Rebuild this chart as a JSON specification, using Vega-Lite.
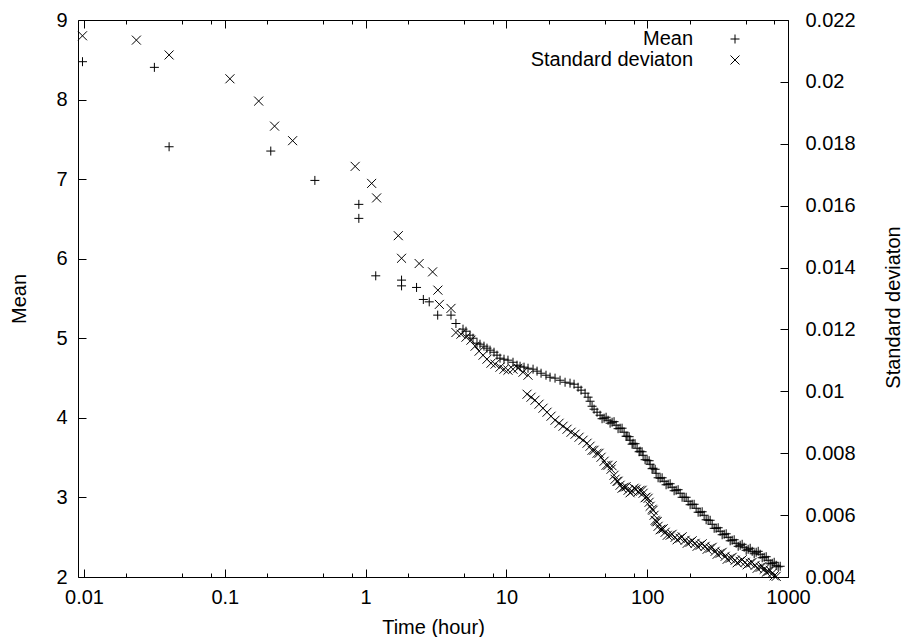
{
"$schema": "https://vega.github.io/schema/vega-lite/v6.json",
"width": 710, "height": 557,
"autosize": {"type": "none"},
"padding": {"left": 78, "top": 20, "right": 116, "bottom": 60},
"config": {
 "view": {"stroke": "black", "strokeWidth": 1},
 "font": "Liberation Sans",
 "axis": {"domain": false, "grid": false, "labelFont": "Liberation Sans", "labelFontSize": 20, "labelColor": "black", "titleFont": "Liberation Sans", "titleFontSize": 20, "titleFontWeight": "normal", "titleColor": "black", "tickColor": "black", "tickWidth": 1, "labelFlush": false, "labelOverlap": false},
 "legend": {"orient": "none", "legendX": 647, "legendY": 9, "title": null, "labelAlign": "right", "labelOffset": -52, "labelLimit": 400, "labelFont": "Liberation Sans", "labelFontSize": 20, "labelColor": "black", "symbolStrokeColor": "black", "symbolStrokeWidth": 1, "symbolSize": 81, "symbolFillColor": "transparent", "padding": 0, "rowPadding": 1}
},
"data": {"values": [
{"series":"Mean","time":0.00975,"value":8.476},
{"series":"Mean","time":0.0316,"value":8.405},
{"series":"Mean","time":0.0402,"value":7.407},
{"series":"Mean","time":0.212,"value":7.353},
{"series":"Mean","time":0.436,"value":6.984},
{"series":"Mean","time":0.895,"value":6.683},
{"series":"Mean","time":0.895,"value":6.507},
{"series":"Mean","time":1.18,"value":5.785},
{"series":"Mean","time":1.80,"value":5.731},
{"series":"Mean","time":1.80,"value":5.659},
{"series":"Mean","time":2.30,"value":5.639},
{"series":"Mean","time":2.57,"value":5.488},
{"series":"Mean","time":2.83,"value":5.458},
{"series":"Mean","time":3.25,"value":5.291},
{"series":"Mean","time":4.04,"value":5.291},
{"series":"Mean","time":4.38,"value":5.186},
{"series":"Mean","time":4.917,"value":5.115},
{"series":"Mean","time":5.164,"value":5.089},
{"series":"Mean","time":5.512,"value":5.039},
{"series":"Mean","time":5.790,"value":5.001},
{"series":"Mean","time":6.180,"value":4.939},
{"series":"Mean","time":6.492,"value":4.926},
{"series":"Mean","time":6.929,"value":4.901},
{"series":"Mean","time":7.279,"value":4.876},
{"series":"Mean","time":7.648,"value":4.851},
{"series":"Mean","time":8.164,"value":4.825},
{"series":"Mean","time":8.575,"value":4.788},
{"series":"Mean","time":9.006,"value":4.750},
{"series":"Mean","time":9.614,"value":4.737},
{"series":"Mean","time":10.26,"value":4.725},
{"series":"Mean","time":11.14,"value":4.699},
{"series":"Mean","time":11.89,"value":4.662},
{"series":"Mean","time":12.50,"value":4.649},
{"series":"Mean","time":13.34,"value":4.637},
{"series":"Mean","time":14.24,"value":4.624},
{"series":"Mean","time":15.46,"value":4.612},
{"series":"Mean","time":16.50,"value":4.587},
{"series":"Mean","time":17.62,"value":4.561},
{"series":"Mean","time":19.11,"value":4.536},
{"series":"Mean","time":20.41,"value":4.511},
{"series":"Mean","time":22.15,"value":4.499},
{"series":"Mean","time":24.04,"value":4.473},
{"series":"Mean","time":26.10,"value":4.448},
{"series":"Mean","time":28.31,"value":4.436},
{"series":"Mean","time":30.23,"value":4.423},
{"series":"Mean","time":32.28,"value":4.385},
{"series":"Mean","time":33.90,"value":4.348},
{"series":"Mean","time":36.20,"value":4.310},
{"series":"Mean","time":38.02,"value":4.260},
{"series":"Mean","time":39.28,"value":4.209},
{"series":"Mean","time":40.59,"value":4.146},
{"series":"Mean","time":41.94,"value":4.109},
{"series":"Mean","time":44.05,"value":4.071},
{"series":"Mean","time":46.27,"value":4.033},
{"series":"Mean","time":47.8,"value":3.989},
{"series":"Mean","time":49.40,"value":3.996},
{"series":"Mean","time":51.05,"value":4.008},
{"series":"Mean","time":52.74,"value":3.970},
{"series":"Mean","time":54.5,"value":3.933},
{"series":"Mean","time":56.31,"value":3.945},
{"series":"Mean","time":58.15,"value":3.952},
{"series":"Mean","time":60.12,"value":3.908},
{"series":"Mean","time":62.1,"value":3.864},
{"series":"Mean","time":64.19,"value":3.870},
{"series":"Mean","time":66.3,"value":3.870},
{"series":"Mean","time":68.53,"value":3.820},
{"series":"Mean","time":70.8,"value":3.769},
{"series":"Mean","time":71.96,"value":3.769},
{"series":"Mean","time":74.4,"value":3.763},
{"series":"Mean","time":75.59,"value":3.719},
{"series":"Mean","time":78.11,"value":3.669},
{"series":"Mean","time":79.40,"value":3.681},
{"series":"Mean","time":82.0,"value":3.675},
{"series":"Mean","time":84.77,"value":3.618},
{"series":"Mean","time":87.6,"value":3.574},
{"series":"Mean","time":89.04,"value":3.581},
{"series":"Mean","time":92.0,"value":3.574},
{"series":"Mean","time":93.52,"value":3.530},
{"series":"Mean","time":96.6,"value":3.474},
{"series":"Mean","time":99.84,"value":3.467},
{"series":"Mean","time":103.2,"value":3.461},
{"series":"Mean","time":104.9,"value":3.417},
{"series":"Mean","time":108.3,"value":3.361},
{"series":"Mean","time":110.1,"value":3.367},
{"series":"Mean","time":113.8,"value":3.354},
{"series":"Mean","time":115.7,"value":3.304},
{"series":"Mean","time":119.5,"value":3.247},
{"series":"Mean","time":123.5,"value":3.241},
{"series":"Mean","time":127.6,"value":3.247},
{"series":"Mean","time":131.9,"value":3.203},
{"series":"Mean","time":136.2,"value":3.159},
{"series":"Mean","time":140.8,"value":3.166},
{"series":"Mean","time":145.5,"value":3.172},
{"series":"Mean","time":150.3,"value":3.128},
{"series":"Mean","time":155.3,"value":3.084},
{"series":"Mean","time":160.5,"value":3.090},
{"series":"Mean","time":165.8,"value":3.097},
{"series":"Mean","time":171.3,"value":3.053},
{"series":"Mean","time":177.0,"value":3.002},
{"series":"Mean","time":182.9,"value":3.002},
{"series":"Mean","time":189.0,"value":3.002},
{"series":"Mean","time":195.3,"value":2.952},
{"series":"Mean","time":201.8,"value":2.908},
{"series":"Mean","time":208.5,"value":2.914},
{"series":"Mean","time":215.4,"value":2.914},
{"series":"Mean","time":222.6,"value":2.864},
{"series":"Mean","time":230.0,"value":2.814},
{"series":"Mean","time":237.7,"value":2.814},
{"series":"Mean","time":245.6,"value":2.820},
{"series":"Mean","time":253.7,"value":2.776},
{"series":"Mean","time":262.2,"value":2.719},
{"series":"Mean","time":270.9,"value":2.713},
{"series":"Mean","time":279.9,"value":2.713},
{"series":"Mean","time":289.3,"value":2.663},
{"series":"Mean","time":298.9,"value":2.612},
{"series":"Mean","time":308.8,"value":2.612},
{"series":"Mean","time":319.1,"value":2.619},
{"series":"Mean","time":329.7,"value":2.575},
{"series":"Mean","time":340.7,"value":2.531},
{"series":"Mean","time":352.1,"value":2.537},
{"series":"Mean","time":363.8,"value":2.543},
{"series":"Mean","time":375.8,"value":2.499},
{"series":"Mean","time":388.4,"value":2.455},
{"series":"Mean","time":401.2,"value":2.462},
{"series":"Mean","time":414.6,"value":2.468},
{"series":"Mean","time":428.3,"value":2.424},
{"series":"Mean","time":442.7,"value":2.386},
{"series":"Mean","time":457.4,"value":2.399},
{"series":"Mean","time":472.6,"value":2.411},
{"series":"Mean","time":488.3,"value":2.374},
{"series":"Mean","time":504.7,"value":2.336},
{"series":"Mean","time":521.3,"value":2.348},
{"series":"Mean","time":538.7,"value":2.361},
{"series":"Mean","time":556.6,"value":2.323},
{"series":"Mean","time":575.3,"value":2.292},
{"series":"Mean","time":594.3,"value":2.311},
{"series":"Mean","time":614.3,"value":2.323},
{"series":"Mean","time":634.4,"value":2.286},
{"series":"Mean","time":655.7,"value":2.242},
{"series":"Mean","time":677.3,"value":2.248},
{"series":"Mean","time":699.8,"value":2.255},
{"series":"Mean","time":723.3,"value":2.210},
{"series":"Mean","time":747.4,"value":2.166},
{"series":"Mean","time":772.2,"value":2.172},
{"series":"Mean","time":797.8,"value":2.185},
{"series":"Mean","time":824.4,"value":2.147},
{"series":"Mean","time":851.7,"value":2.128},
{"series":"Mean","time":880.2,"value":2.135},
{"series":"Standard deviaton","time":0.00975,"value":0.02149},
{"series":"Standard deviaton","time":0.02354,"value":0.02135},
{"series":"Standard deviaton","time":0.0402,"value":0.02087},
{"series":"Standard deviaton","time":0.1087,"value":0.02010},
{"series":"Standard deviaton","time":0.1739,"value":0.01938},
{"series":"Standard deviaton","time":0.2256,"value":0.01857},
{"series":"Standard deviaton","time":0.303,"value":0.01810},
{"series":"Standard deviaton","time":0.843,"value":0.01727},
{"series":"Standard deviaton","time":1.104,"value":0.01672},
{"series":"Standard deviaton","time":1.197,"value":0.01625},
{"series":"Standard deviaton","time":1.706,"value":0.01503},
{"series":"Standard deviaton","time":1.80,"value":0.01430},
{"series":"Standard deviaton","time":2.40,"value":0.01413},
{"series":"Standard deviaton","time":2.99,"value":0.01386},
{"series":"Standard deviaton","time":3.26,"value":0.01327},
{"series":"Standard deviaton","time":3.34,"value":0.01281},
{"series":"Standard deviaton","time":4.04,"value":0.01268},
{"series":"Standard deviaton","time":4.38,"value":0.01190},
{"series":"Standard deviaton","time":4.756,"value":0.011847},
{"series":"Standard deviaton","time":5.164,"value":0.011750},
{"series":"Standard deviaton","time":5.60,"value":0.011653},
{"series":"Standard deviaton","time":5.992,"value":0.011459},
{"series":"Standard deviaton","time":6.397,"value":0.011297},
{"series":"Standard deviaton","time":6.829,"value":0.011168},
{"series":"Standard deviaton","time":7.279,"value":0.011039},
{"series":"Standard deviaton","time":7.773,"value":0.010909},
{"series":"Standard deviaton","time":8.299,"value":0.010877},
{"series":"Standard deviaton","time":9.006,"value":0.010780},
{"series":"Standard deviaton","time":9.614,"value":0.010715},
{"series":"Standard deviaton","time":10.26,"value":0.010683},
{"series":"Standard deviaton","time":11.14,"value":0.010715},
{"series":"Standard deviaton","time":12.09,"value":0.010748},
{"series":"Standard deviaton","time":13.12,"value":0.010618},
{"series":"Standard deviaton","time":14.24,"value":0.010521},
{"series":"Standard deviaton","time":14.01,"value":0.009907},
{"series":"Standard deviaton","time":14.96,"value":0.009810},
{"series":"Standard deviaton","time":15.97,"value":0.009713},
{"series":"Standard deviaton","time":17.05,"value":0.009584},
{"series":"Standard deviaton","time":18.20,"value":0.009454},
{"series":"Standard deviaton","time":19.43,"value":0.009325},
{"series":"Standard deviaton","time":20.75,"value":0.009196},
{"series":"Standard deviaton","time":22.15,"value":0.009066},
{"series":"Standard deviaton","time":23.65,"value":0.008969},
{"series":"Standard deviaton","time":25.25,"value":0.008872},
{"series":"Standard deviaton","time":26.96,"value":0.008775},
{"series":"Standard deviaton","time":28.78,"value":0.008678},
{"series":"Standard deviaton","time":30.73,"value":0.008614},
{"series":"Standard deviaton","time":32.81,"value":0.008517},
{"series":"Standard deviaton","time":35.03,"value":0.008420},
{"series":"Standard deviaton","time":37.40,"value":0.008323},
{"series":"Standard deviaton","time":39.28,"value":0.008226},
{"series":"Standard deviaton","time":40.59,"value":0.008096},
{"series":"Standard deviaton","time":41.94,"value":0.008096},
{"series":"Standard deviaton","time":44.05,"value":0.007999},
{"series":"Standard deviaton","time":45.5,"value":0.007999},
{"series":"Standard deviaton","time":47.02,"value":0.007870},
{"series":"Standard deviaton","time":49.40,"value":0.007741},
{"series":"Standard deviaton","time":51.05,"value":0.007611},
{"series":"Standard deviaton","time":52.74,"value":0.007611},
{"series":"Standard deviaton","time":55.36,"value":0.007482},
{"series":"Standard deviaton","time":56.31,"value":0.007595},
{"series":"Standard deviaton","time":58.15,"value":0.007288},
{"series":"Standard deviaton","time":59.1,"value":0.007159},
{"series":"Standard deviaton","time":61.10,"value":0.007094},
{"series":"Standard deviaton","time":62.1,"value":0.007094},
{"series":"Standard deviaton","time":64.19,"value":0.006965},
{"series":"Standard deviaton","time":66.3,"value":0.006868},
{"series":"Standard deviaton","time":68.53,"value":0.006900},
{"series":"Standard deviaton","time":70.8,"value":0.006916},
{"series":"Standard deviaton","time":73.16,"value":0.006803},
{"series":"Standard deviaton","time":75.59,"value":0.006722},
{"series":"Standard deviaton","time":78.11,"value":0.006771},
{"series":"Standard deviaton","time":80.7,"value":0.006868},
{"series":"Standard deviaton","time":83.39,"value":0.006835},
{"series":"Standard deviaton","time":86.2,"value":0.006755},
{"series":"Standard deviaton","time":89.04,"value":0.006803},
{"series":"Standard deviaton","time":92.0,"value":0.006803},
{"series":"Standard deviaton","time":93.52,"value":0.006706},
{"series":"Standard deviaton","time":96.6,"value":0.006561},
{"series":"Standard deviaton","time":98.22,"value":0.006577},
{"series":"Standard deviaton","time":101.5,"value":0.006544},
{"series":"Standard deviaton","time":103.2,"value":0.006415},
{"series":"Standard deviaton","time":104.9,"value":0.006286},
{"series":"Standard deviaton","time":108.3,"value":0.006189},
{"series":"Standard deviaton","time":110.1,"value":0.006156},
{"series":"Standard deviaton","time":111.9,"value":0.005995},
{"series":"Standard deviaton","time":113.8,"value":0.005833},
{"series":"Standard deviaton","time":115.7,"value":0.005801},
{"series":"Standard deviaton","time":117.6,"value":0.005785},
{"series":"Standard deviaton","time":119.5,"value":0.005639},
{"series":"Standard deviaton","time":123.5,"value":0.005526},
{"series":"Standard deviaton","time":125.6,"value":0.005542},
{"series":"Standard deviaton","time":129.9,"value":0.005558},
{"series":"Standard deviaton","time":134.1,"value":0.005445},
{"series":"Standard deviaton","time":138.8,"value":0.005348},
{"series":"Standard deviaton","time":145.5,"value":0.005348},
{"series":"Standard deviaton","time":150.3,"value":0.005380},
{"series":"Standard deviaton","time":157.9,"value":0.005283},
{"series":"Standard deviaton","time":163.1,"value":0.005202},
{"series":"Standard deviaton","time":171.3,"value":0.005251},
{"series":"Standard deviaton","time":177.0,"value":0.005299},
{"series":"Standard deviaton","time":185.9,"value":0.005186},
{"series":"Standard deviaton","time":192.4,"value":0.005089},
{"series":"Standard deviaton","time":201.8,"value":0.005122},
{"series":"Standard deviaton","time":208.5,"value":0.005170},
{"series":"Standard deviaton","time":219.0,"value":0.005089},
{"series":"Standard deviaton","time":226.2,"value":0.004992},
{"series":"Standard deviaton","time":237.7,"value":0.005025},
{"series":"Standard deviaton","time":245.6,"value":0.005073},
{"series":"Standard deviaton","time":257.9,"value":0.004992},
{"series":"Standard deviaton","time":266.5,"value":0.004895},
{"series":"Standard deviaton","time":279.9,"value":0.004928},
{"series":"Standard deviaton","time":289.3,"value":0.004960},
{"series":"Standard deviaton","time":303.8,"value":0.004831},
{"series":"Standard deviaton","time":313.9,"value":0.004734},
{"series":"Standard deviaton","time":329.7,"value":0.004766},
{"series":"Standard deviaton","time":340.7,"value":0.004798},
{"series":"Standard deviaton","time":357.9,"value":0.004669},
{"series":"Standard deviaton","time":369.8,"value":0.004572},
{"series":"Standard deviaton","time":388.4,"value":0.004604},
{"series":"Standard deviaton","time":401.2,"value":0.004637},
{"series":"Standard deviaton","time":421.4,"value":0.004540},
{"series":"Standard deviaton","time":435.5,"value":0.004459},
{"series":"Standard deviaton","time":457.4,"value":0.004507},
{"series":"Standard deviaton","time":472.6,"value":0.004556},
{"series":"Standard deviaton","time":496.4,"value":0.004475},
{"series":"Standard deviaton","time":512.9,"value":0.004394},
{"series":"Standard deviaton","time":538.7,"value":0.004443},
{"series":"Standard deviaton","time":556.6,"value":0.004475},
{"series":"Standard deviaton","time":584.7,"value":0.004378},
{"series":"Standard deviaton","time":604.0,"value":0.004281},
{"series":"Standard deviaton","time":634.4,"value":0.004313},
{"series":"Standard deviaton","time":655.7,"value":0.004346},
{"series":"Standard deviaton","time":677.3,"value":0.004249},
{"series":"Standard deviaton","time":699.8,"value":0.004152},
{"series":"Standard deviaton","time":723.3,"value":0.004184},
{"series":"Standard deviaton","time":747.4,"value":0.004216},
{"series":"Standard deviaton","time":772.2,"value":0.004119},
{"series":"Standard deviaton","time":797.8,"value":0.004038},
{"series":"Standard deviaton","time":824.4,"value":0.004022}
]},
"layer": [
 {
  "transform": [{"filter": "datum.series === 'Mean'"}],
  "mark": {"type": "point", "filled": false, "stroke": "black", "strokeWidth": 1, "size": 81, "opacity": 1},
  "encoding": {
   "x": {"field": "time", "type": "quantitative", "scale": {"type": "log", "domain": [0.00906, 1000], "nice": false},
         "axis": {"orient": "bottom", "values": [0.01, 0.1, 1, 10, 100, 1000], "format": "~g", "tickSize": -8, "labelPadding": 18, "title": "Time (hour)", "titleX": 355, "titleY": 56, "titleBaseline": "alphabetic", "titleAlign": "center"}},
   "y": {"field": "value", "type": "quantitative", "scale": {"domain": [2, 9], "nice": false, "zero": false},
         "axis": {"orient": "left", "values": [2, 3, 4, 5, 6, 7, 8, 9], "tickSize": -8, "labelPadding": 19, "title": "Mean", "titleX": -59, "titleY": 278.5, "titleAngle": -90, "titleBaseline": "middle", "titleAlign": "center"}},
   "shape": {"field": "series", "type": "nominal", "scale": {"domain": ["Mean", "Standard deviaton"], "range": ["M-1,0L1,0M0,-1L0,1", "M-1,-1L1,1M-1,1L1,-1"]}}
  }
 },
 {
  "transform": [{"filter": "datum.series === 'Standard deviaton'"}],
  "mark": {"type": "point", "filled": false, "stroke": "black", "strokeWidth": 1, "size": 81, "opacity": 1},
  "encoding": {
   "x": {"field": "time", "type": "quantitative", "scale": {"type": "log", "domain": [0.00906, 1000], "nice": false},
         "axis": {"orient": "top", "values": [0.01, 0.1, 1, 10, 100, 1000], "tickSize": -8, "labels": false, "title": null}},
   "y": {"field": "value", "type": "quantitative", "scale": {"domain": [0.004, 0.022], "nice": false, "zero": false},
         "axis": {"orient": "right", "values": [0.004, 0.006, 0.008, 0.01, 0.012, 0.014, 0.016, 0.018, 0.02, 0.022], "format": "~g", "tickSize": -8, "labelPadding": 25, "title": "Standard deviaton", "titleX": 105, "titleY": 287, "titleAngle": -90, "titleBaseline": "middle", "titleAlign": "center"}},
   "shape": {"field": "series", "type": "nominal", "scale": {"domain": ["Mean", "Standard deviaton"], "range": ["M-1,0L1,0M0,-1L0,1", "M-1,-1L1,1M-1,1L1,-1"]}}
  }
 },
 {
  "transform": [{"filter": "datum.series === 'Mean'"}],
  "mark": {"type": "point", "opacity": 0},
  "encoding": {
   "x": {"field": "time", "type": "quantitative", "scale": {"type": "log", "domain": [0.00906, 1000], "nice": false},
         "axis": {"orient": "bottom", "values": [0.02, 0.05, 0.08, 0.2, 0.5, 0.8, 2, 5, 8, 20, 50, 80, 200, 500, 800], "tickSize": -4, "labels": false, "title": null}},
   "y": {"field": "value", "type": "quantitative", "scale": {"domain": [2, 9], "nice": false, "zero": false}, "axis": null}
  }
 },
 {
  "transform": [{"filter": "datum.series === 'Mean'"}],
  "mark": {"type": "point", "opacity": 0},
  "encoding": {
   "x": {"field": "time", "type": "quantitative", "scale": {"type": "log", "domain": [0.00906, 1000], "nice": false},
         "axis": {"orient": "top", "values": [0.02, 0.05, 0.08, 0.2, 0.5, 0.8, 2, 5, 8, 20, 50, 80, 200, 500, 800], "tickSize": -4, "labels": false, "title": null}},
   "y": {"field": "value", "type": "quantitative", "scale": {"domain": [2, 9], "nice": false, "zero": false}, "axis": null}
  }
 }
],
"resolve": {"scale": {"y": "independent"}, "axis": {"x": "independent"}}
}
